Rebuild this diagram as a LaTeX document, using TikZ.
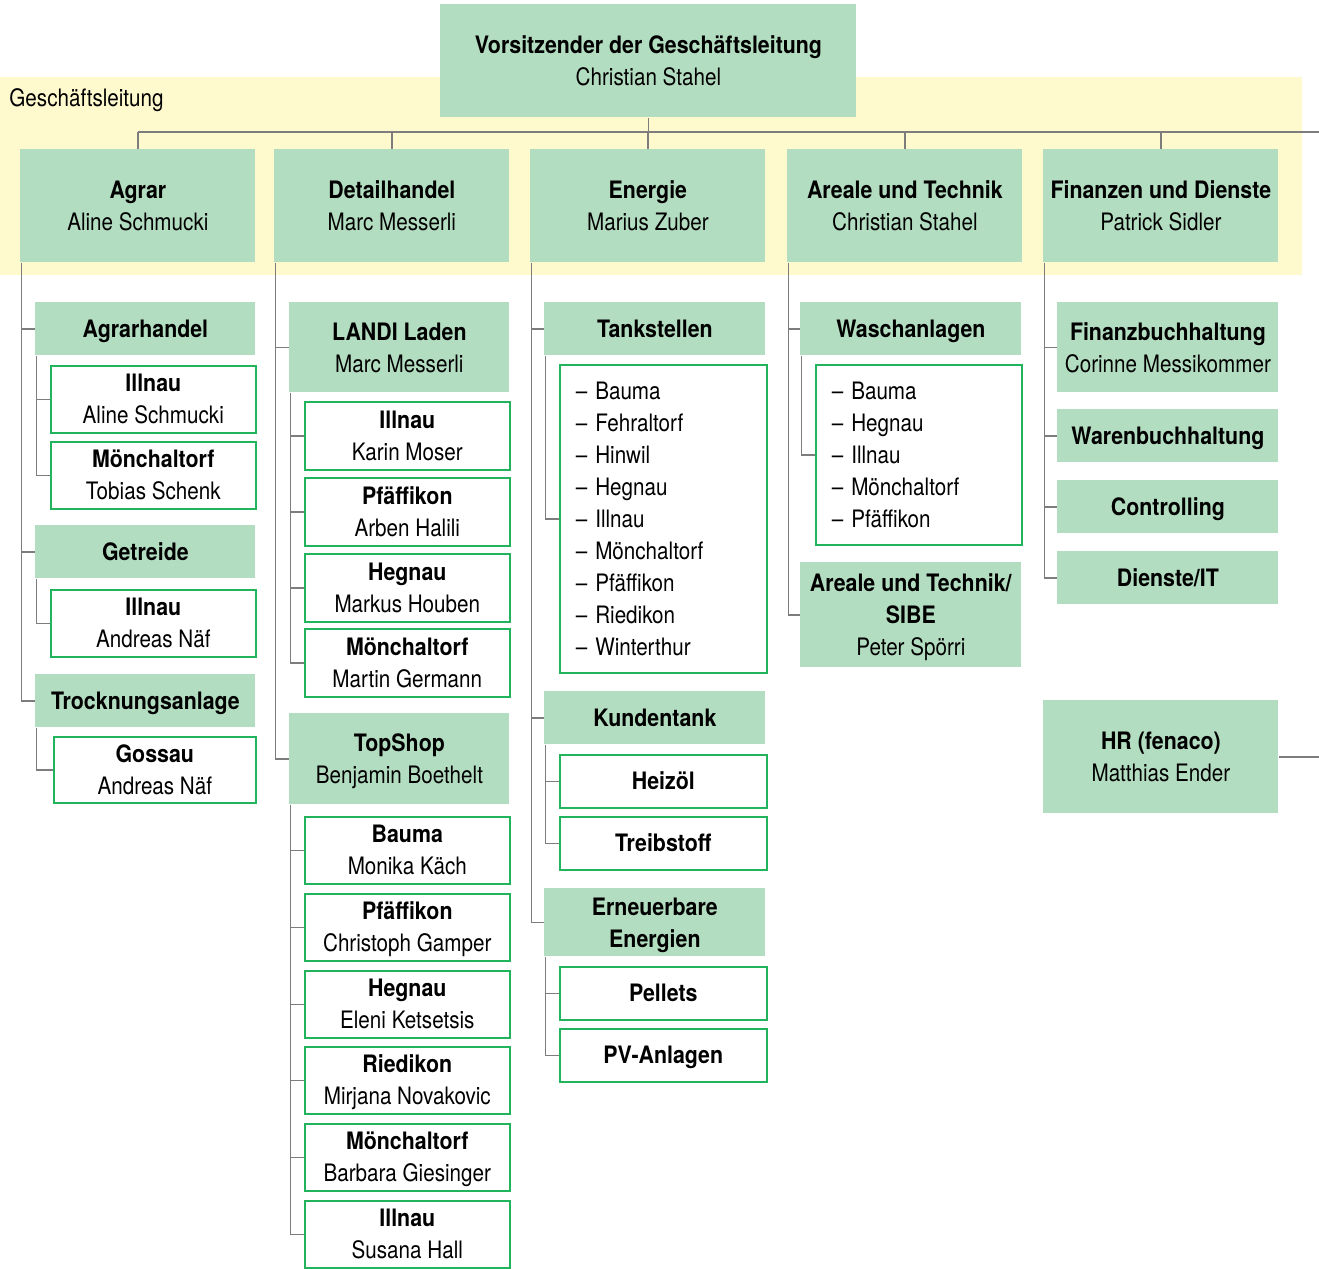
\documentclass[tikz,border=0pt]{standalone}
\usepackage{fontspec}
\setmainfont{TeX Gyre Heros}[FakeStretch=0.86, BoldFeatures={FakeStretch=0.89}]
\definecolor{fgreen}{RGB}{179,221,192}
\definecolor{bgreen}{RGB}{34,180,92}
\definecolor{byellow}{RGB}{255,250,205}
\definecolor{lgray}{RGB}{125,125,125}
\begin{document}
\begin{tikzpicture}[x=0.5pt,y=-0.5pt,
  base/.style={inner sep=0pt, anchor=north west, align=center, text height=8.6pt, text depth=0pt, font=\fontsize{12}{16}\selectfont},
  ltwo/.style={text height=24.6pt},
  lthree/.style={text height=40.6pt},
  hbox/.style={base, fill=fgreen},
  wbox/.style={base, draw=bgreen, line width=0.8pt, fill=white},
  lbox/.style={wbox, align=left, inner xsep=8pt},
  conn/.style={draw=lgray, line width=0.7pt},
  lone/.style={minimum width=117.5pt, minimum height=56.5pt, ltwo},
  sub/.style={minimum width=110.5pt, minimum height=26.5pt},
  item/.style={minimum width=102.5pt, minimum height=33.5pt, ltwo},
  citem/.style={minimum width=103.5pt, minimum height=26.5pt}
]
\useasboundingbox (0,0) rectangle (1319,1269);
\fill[byellow] (0,77) rectangle (1302,275);
\node[base, anchor=west, align=left] (gl) at (9,98) {Geschäftsleitung};

% top
\node[hbox, ltwo, minimum width=208pt, minimum height=56.5pt] (top) at (440,4) {\textbf{Vorsitzender der Geschäftsleitung}\\Christian Stahel};

% level 1
\node[hbox, lone] (agrar) at (20,149) {\textbf{Agrar}\\Aline Schmucki};
\node[hbox, lone] (detail) at (274,149) {\textbf{Detailhandel}\\Marc Messerli};
\node[hbox, lone] (energie) at (530,149) {\textbf{Energie}\\Marius Zuber};
\node[hbox, lone] (areale) at (787,149) {\textbf{Areale und Technik}\\Christian Stahel};
\node[hbox, lone] (finanzen) at (1043,149) {\textbf{Finanzen und Dienste}\\Patrick Sidler};

% column 1
\node[hbox, sub, minimum width=110pt] (agrarhandel) at (35,302) {\textbf{Agrarhandel}};
\node[wbox, item] (ag1) at (50,365) {\textbf{Illnau}\\Aline Schmucki};
\node[wbox, item] (ag2) at (50,441) {\textbf{Mönchaltorf}\\Tobias Schenk};
\node[hbox, sub, minimum width=110pt] (getreide) at (35,525) {\textbf{Getreide}};
\node[wbox, item] (ge1) at (50,589) {\textbf{Illnau}\\Andreas Näf};
\node[hbox, sub, minimum width=110pt] (trock) at (35,674) {\textbf{Trocknungsanlage}};
\node[wbox, item, minimum width=101pt, minimum height=33pt] (tr1) at (53,736) {\textbf{Gossau}\\Andreas Näf};

% column 2
\node[hbox, ltwo, minimum width=110pt, minimum height=45pt] (landi) at (289,302) {\textbf{LANDI Laden}\\Marc Messerli};
\node[wbox, item, minimum height=34pt] (la1) at (304,401) {\textbf{Illnau}\\Karin Moser};
\node[wbox, item, minimum height=34pt] (la2) at (304,477) {\textbf{Pfäffikon}\\Arben Halili};
\node[wbox, item, minimum height=34pt] (la3) at (304,553) {\textbf{Hegnau}\\Markus Houben};
\node[wbox, item, minimum height=34pt] (la4) at (304,628) {\textbf{Mönchaltorf}\\Martin Germann};
\node[hbox, ltwo, minimum width=110pt, minimum height=45.5pt] (topshop) at (289,713) {\textbf{TopShop}\\Benjamin Boethelt};
\node[wbox, item] (ts1) at (304,816) {\textbf{Bauma}\\Monika Käch};
\node[wbox, item] (ts2) at (304,893) {\textbf{Pfäffikon}\\Christoph Gamper};
\node[wbox, item] (ts3) at (304,970) {\textbf{Hegnau}\\Eleni Ketsetsis};
\node[wbox, item] (ts4) at (304,1046) {\textbf{Riedikon}\\Mirjana Novakovic};
\node[wbox, item] (ts5) at (304,1123) {\textbf{Mönchaltorf}\\Barbara Giesinger};
\node[wbox, item] (ts6) at (304,1200) {\textbf{Illnau}\\Susana Hall};

% column 3
\node[hbox, sub] (tank) at (544,302) {\textbf{Tankstellen}};
\node[lbox, text width=87.5pt, text depth=128pt, minimum height=154pt] (tanklist) at (559,364)
  {– Bauma\\– Fehraltorf\\– Hinwil\\– Hegnau\\– Illnau\\– Mönchaltorf\\– Pfäffikon\\– Riedikon\\– Winterthur};
\node[hbox, sub] (kunden) at (544,691) {\textbf{Kundentank}};
\node[wbox, citem] (heiz) at (559,754) {\textbf{Heizöl}};
\node[wbox, citem] (treib) at (559,816) {\textbf{Treibstoff}};
\node[hbox, sub, ltwo, minimum height=34pt] (ern) at (544,888) {\textbf{Erneuerbare}\\\textbf{Energien}};
\node[wbox, citem] (pell) at (559,966) {\textbf{Pellets}};
\node[wbox, citem] (pv) at (559,1028) {\textbf{PV-Anlagen}};

% column 4
\node[hbox, sub] (wasch) at (800,302) {\textbf{Waschanlagen}};
\node[lbox, text width=87pt, text depth=64pt, minimum height=90pt] (waschlist) at (815,364)
  {– Bauma\\– Hegnau\\– Illnau\\– Mönchaltorf\\– Pfäffikon};
\node[hbox, sub, lthree, minimum height=52.5pt] (sibe) at (800,562) {\textbf{Areale und Technik/}\\\textbf{SIBE}\\Peter Spörri};

% column 5
\node[hbox, sub, ltwo, minimum height=45pt] (fibu) at (1057,302) {\textbf{Finanzbuchhaltung}\\Corinne Messikommer};
\node[hbox, sub] (wabu) at (1057,409) {\textbf{Warenbuchhaltung}};
\node[hbox, sub] (contr) at (1057,480) {\textbf{Controlling}};
\node[hbox, sub] (dienste) at (1057,551) {\textbf{Dienste/IT}};
\node[hbox, lone] (hr) at (1043,700) {\textbf{HR (fenaco)}\\Matthias Ender};

% connectors
\coordinate (busL) at (138,132);
\coordinate (busR) at (1319,132);
\coordinate (hrEnd) at (1319,756);
\draw[conn] (busL) -- (busR);
\draw[conn] (top.south) -- (top.south |- busL);
\foreach \n in {agrar,detail,energie,areale,finanzen}
  \draw[conn] (\n.north) -- (\n.north |- busL);
\draw[conn] (hr.east) -- (hr.east -| hrEnd);

\foreach \p/\c in {agrar/agrarhandel, agrar/getreide, agrar/trock,
  agrarhandel/ag1, agrarhandel/ag2, getreide/ge1, trock/tr1,
  detail/landi, detail/topshop,
  landi/la1, landi/la2, landi/la3, landi/la4,
  topshop/ts1, topshop/ts2, topshop/ts3, topshop/ts4, topshop/ts5, topshop/ts6,
  energie/tank, energie/kunden, energie/ern,
  tank/tanklist, kunden/heiz, kunden/treib, ern/pell, ern/pv,
  areale/wasch, areale/sibe, wasch/waschlist,
  finanzen/fibu, finanzen/wabu, finanzen/contr, finanzen/dienste}
  \draw[conn] ([xshift=0.6pt]\p.south west) |- (\c.west);
\end{tikzpicture}
\end{document}
